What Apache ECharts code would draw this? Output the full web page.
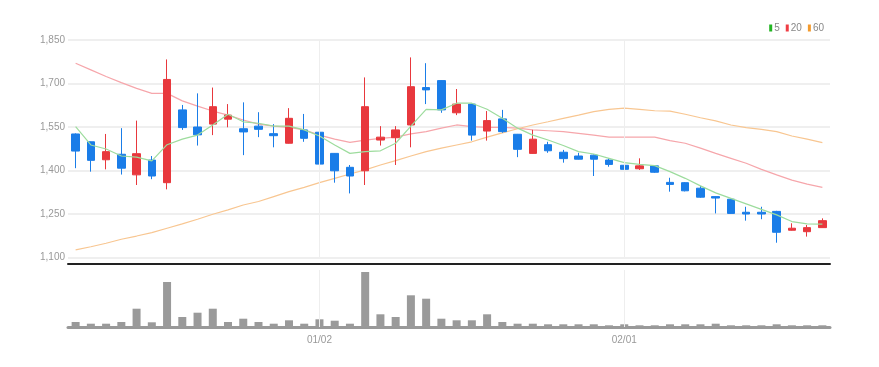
<!DOCTYPE html>
<html>
<head>
<meta charset="utf-8">
<script src="https://cdn.jsdelivr.net/npm/echarts@6/dist/echarts.min.js"></script>
<style>
html, body { margin: 0; padding: 0; background: #fff; }
#chart { width: 879px; height: 367px; }
</style>
</head>
<body>
<div id="chart"></div>
<script>
var dates = ['12/08', '12/09', '12/12', '12/13', '12/14', '12/15', '12/16', '12/19', '12/20', '12/21',
    '12/22', '12/23', '12/26', '12/27', '12/28', '12/29', '01/02', '01/03', '01/04', '01/05',
    '01/06', '01/09', '01/10', '01/11', '01/12', '01/13', '01/16', '01/17', '01/18', '01/19',
    '01/20', '01/25', '01/26', '01/27', '01/30', '01/31', '02/01', '02/02', '02/03', '02/06',
    '02/07', '02/08', '02/09', '02/10', '02/13', '02/14', '02/15', '02/16', '02/17', '02/20'];

// [open, close, low, high]
var candles = [
    [1526, 1467, 1408, 1528], [1499, 1435, 1396, 1500], [1437, 1465, 1404, 1526], [1456, 1408, 1386, 1546],
    [1385, 1458, 1350, 1572], [1436, 1381, 1370, 1450], [1358, 1714, 1335, 1783], [1609, 1548, 1540, 1626],
    [1550, 1523, 1486, 1666], [1560, 1620, 1522, 1686], [1577, 1591, 1549, 1629], [1544, 1533, 1453, 1635],
    [1553, 1542, 1515, 1601], [1527, 1520, 1480, 1560], [1494, 1580, 1493, 1615], [1540, 1511, 1499, 1595],
    [1532, 1422, 1396, 1591], [1459, 1399, 1358, 1460], [1411, 1381, 1321, 1419], [1399, 1620, 1350, 1721],
    [1505, 1515, 1486, 1553], [1513, 1540, 1419, 1553], [1557, 1689, 1480, 1790], [1686, 1678, 1629, 1770],
    [1710, 1609, 1599, 1711], [1599, 1629, 1591, 1681], [1629, 1522, 1503, 1630], [1536, 1572, 1503, 1605],
    [1578, 1534, 1530, 1609], [1525, 1473, 1446, 1526], [1459, 1508, 1458, 1540], [1489, 1468, 1461, 1499],
    [1463, 1441, 1427, 1471], [1450, 1439, 1438, 1461], [1453, 1439, 1381, 1455], [1436, 1421, 1413, 1442],
    [1418, 1404, 1392, 1430], [1406, 1416, 1402, 1442], [1416, 1394, 1392, 1418], [1359, 1352, 1327, 1375],
    [1358, 1330, 1328, 1360], [1339, 1308, 1306, 1347], [1310, 1305, 1252, 1311], [1301, 1252, 1251, 1303],
    [1256, 1250, 1227, 1275], [1256, 1250, 1232, 1275], [1259, 1187, 1151, 1261], [1194, 1201, 1193, 1218],
    [1189, 1203, 1172, 1212], [1203, 1227, 1202, 1235]
];

var ma5 = [1551, 1488, 1474, 1450, 1446, 1433, 1489, 1508, 1522, 1557,
    1594, 1568, 1563, 1553, 1553, 1540, 1519, 1488, 1459, 1465,
    1468, 1494, 1553, 1611, 1609, 1632, 1632, 1611, 1580, 1546,
    1522, 1505, 1486, 1465, 1457, 1442, 1427, 1421, 1417, 1396,
    1373, 1347, 1323, 1304, 1285, 1266, 1247, 1224, 1216, 1215];

var ma20 = [1770, 1747, 1724, 1703, 1683, 1666, 1666, 1640, 1622, 1605,
    1591, 1574, 1560, 1553, 1549, 1540, 1522, 1508, 1497, 1505,
    1511, 1515, 1526, 1534, 1546, 1557, 1551, 1549, 1549, 1546,
    1540, 1537, 1534, 1528, 1522, 1515, 1515, 1515, 1515, 1503,
    1494, 1477, 1459, 1442, 1425, 1404, 1385, 1367, 1353, 1342];

var ma60 = [1126, 1137, 1149, 1163, 1174, 1186, 1201, 1216, 1232, 1249,
    1264, 1281, 1293, 1310, 1327, 1342, 1358, 1373, 1388, 1402,
    1419, 1434, 1450, 1465, 1477, 1488, 1499, 1515, 1530, 1544,
    1557, 1568, 1580, 1591, 1603, 1611, 1615, 1611, 1606, 1605,
    1594, 1582, 1571, 1557, 1548, 1542, 1534, 1519, 1508, 1496];

var volumes = [50000, 33000, 33000, 50000, 183000, 47000, 450000, 100000, 143000, 183000,
    50000, 83000, 50000, 33000, 67000, 33000, 77000, 63000, 33000, 550000,
    127000, 100000, 317000, 283000, 83000, 67000, 67000, 127000, 50000, 33000,
    33000, 27000, 27000, 27000, 27000, 17000, 27000, 17000, 17000, 27000,
    27000, 27000, 33000, 17000, 17000, 17000, 27000, 17000, 17000, 17000];

var monthStarts = ['01/02', '02/01'];

var fontName = 'Liberation Sans Narrow, Liberation Sans, sans-serif';

function isMonthStart(index, value) {
    return monthStarts.indexOf(value) >= 0;
}

var vLines = {
    silent: true,
    symbol: 'none',
    label: {show: false},
    lineStyle: {color: '#eeeeee', type: 'solid', width: 1},
    data: monthStarts.map(function (d) { return {xAxis: d}; })
};

var chart = echarts.init(document.getElementById('chart'));

var option = {
    animation: false,
    legend: {
        right: 50,
        top: 18,
        icon: 'rect',
        itemWidth: 3,
        itemHeight: 7,
        itemGap: 6,
        textStyle: {color: '#888', fontSize: 10, fontFamily: fontName, padding: [0, 0, 0, -3]},
        data: ['5', '20', '60']
    },
    grid: [
        {left: 68, right: 49, top: 40, height: 217.5},
        {left: 68, right: 49, top: 270, height: 57}
    ],
    xAxis: [
        {
            type: 'category',
            gridIndex: 0,
            data: dates,
            offset: 6,
            axisLine: {lineStyle: {color: '#222', width: 2}},
            axisTick: {show: false},
            axisLabel: {show: false},
            splitLine: {show: false}
        },
        {
            type: 'category',
            gridIndex: 1,
            data: dates,
            axisLine: {lineStyle: {color: '#999', width: 3}},
            axisTick: {
                alignWithLabel: true,
                interval: isMonthStart,
                length: 4,
                lineStyle: {color: '#555'}
            },
            axisLabel: {
                interval: isMonthStart,
                color: '#999',
                fontSize: 10,
                fontFamily: fontName,
                margin: 8
            },
            splitLine: {show: false}
        }
    ],
    yAxis: [
        {
            type: 'value',
            gridIndex: 0,
            min: 1100,
            max: 1850,
            interval: 150,
            axisLine: {show: false},
            axisTick: {show: false},
            axisLabel: {
                color: '#999',
                fontSize: 10,
                fontFamily: fontName,
                margin: 3,
                formatter: function (v) { return v.toLocaleString('en-US'); }
            },
            splitLine: {lineStyle: {color: '#efefef', width: 2}}
        },
        {
            type: 'value',
            gridIndex: 1,
            min: 0,
            max: 570000,
            axisLine: {show: false},
            axisTick: {show: false},
            axisLabel: {show: false},
            splitLine: {show: false}
        }
    ],
    series: [
        {
            name: 'candle',
            type: 'candlestick',
            xAxisIndex: 0,
            yAxisIndex: 0,
            barWidth: 8,
            data: candles,
            itemStyle: {
                color: '#e8383d',
                borderColor: '#e8383d',
                color0: '#1a7de8',
                borderColor0: '#1a7de8',
                borderWidth: 1
            },
            markLine: vLines,
            z: 3
        },
        {
            name: '5',
            type: 'line',
            xAxisIndex: 0,
            yAxisIndex: 0,
            data: ma5,
            symbol: 'none',
            itemStyle: {color: '#22b522'},
            lineStyle: {color: '#9ddc9d', width: 1.2},
            z: 4
        },
        {
            name: '20',
            type: 'line',
            xAxisIndex: 0,
            yAxisIndex: 0,
            data: ma20,
            symbol: 'none',
            itemStyle: {color: '#ef3d44'},
            lineStyle: {color: '#f6a6ab', width: 1.2},
            z: 2
        },
        {
            name: '60',
            type: 'line',
            xAxisIndex: 0,
            yAxisIndex: 0,
            data: ma60,
            symbol: 'none',
            itemStyle: {color: '#f39a2c'},
            lineStyle: {color: '#f8c691', width: 1.2},
            z: 2
        },
        {
            name: 'volume',
            type: 'bar',
            xAxisIndex: 1,
            yAxisIndex: 1,
            data: volumes,
            barWidth: 8,
            itemStyle: {color: '#9a9a9a'},
            markLine: vLines
        }
    ]
};

chart.setOption(option);
</script>
</body>
</html>
